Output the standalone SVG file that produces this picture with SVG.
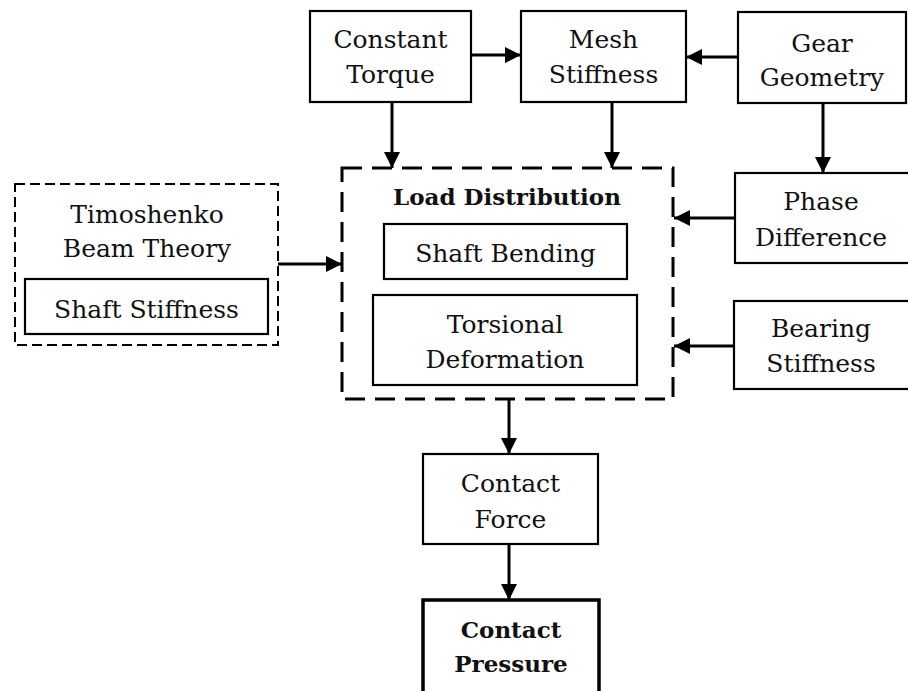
<svg xmlns="http://www.w3.org/2000/svg" width="908" height="691" viewBox="0 0 908 691">
<defs>
<marker id="ah" markerWidth="16" markerHeight="16" refX="16" refY="8" orient="auto" markerUnits="userSpaceOnUse">
<path d="M0,0 L16,8 L0,16 Z" fill="#000"/>
</marker>
<style>
.box{fill:#fff;stroke:#000;stroke-width:2.2}
.bold{fill:#fff;stroke:#000;stroke-width:3.5}
.dash1{fill:none;stroke:#000;stroke-width:3;stroke-dasharray:20 10}
.dash2{fill:none;stroke:#000;stroke-width:2;stroke-dasharray:10 5}
.t{font-family:"DejaVu Serif","Liberation Serif",serif;font-size:25px;text-anchor:middle;fill:#111}
.tb{font-family:"DejaVu Serif","Liberation Serif",serif;font-size:23px;font-weight:bold;text-anchor:middle;fill:#111}
.c{fill:none;stroke:#000;stroke-width:3;marker-end:url(#ah)}
</style>
</defs>
<rect width="908" height="691" fill="#fff"/>
<g id="constant-torque">
<rect class="box" x="310" y="11" width="161" height="91"/>
<text class="t" x="390.5" y="48">Constant</text>
<text class="t" x="390.5" y="83">Torque</text>
</g>
<g id="mesh-stiffness">
<rect class="box" x="521" y="11" width="165" height="91"/>
<text class="t" x="603.5" y="48">Mesh</text>
<text class="t" x="603.5" y="83">Stiffness</text>
</g>
<g id="gear-geometry">
<rect class="box" x="738" y="12" width="168" height="91"/>
<text class="t" x="822" y="52">Gear</text>
<text class="t" x="822" y="86">Geometry</text>
</g>
<g id="phase-difference">
<rect class="box" x="735" y="173" width="180" height="90"/>
<text class="t" x="821" y="210">Phase</text>
<text class="t" x="821" y="246">Difference</text>
</g>
<g id="bearing-stiffness">
<rect class="box" x="734" y="301" width="180" height="88"/>
<text class="t" x="821" y="337">Bearing</text>
<text class="t" x="821" y="372">Stiffness</text>
</g>
<g id="timoshenko">
<rect class="dash2" x="15" y="184" width="263" height="161"/>
<text class="t" x="147" y="223">Timoshenko</text>
<text class="t" x="147" y="257">Beam Theory</text>
</g>
<g id="shaft-stiffness">
<rect class="box" x="25" y="279" width="243" height="55"/>
<text class="t" x="146.5" y="318">Shaft Stiffness</text>
</g>
<g id="load-distribution">
<rect class="dash1" x="342" y="168" width="331" height="231"/>
<text class="tb" x="507" y="205">Load Distribution</text>
</g>
<g id="shaft-bending">
<rect class="box" x="384" y="224" width="243" height="55"/>
<text class="t" x="505.5" y="262">Shaft Bending</text>
</g>
<g id="torsional-deformation">
<rect class="box" x="373" y="295" width="264" height="90"/>
<text class="t" x="505" y="333">Torsional</text>
<text class="t" x="505" y="368">Deformation</text>
</g>
<g id="contact-force">
<rect class="box" x="423" y="454" width="175" height="90"/>
<text class="t" x="510.5" y="492">Contact</text>
<text class="t" x="510.5" y="528">Force</text>
</g>
<g id="contact-pressure">
<rect class="bold" x="423" y="600" width="176" height="100"/>
<text class="tb" x="511" y="638">Contact</text>
<text class="tb" x="511" y="672">Pressure</text>
</g>
<g id="connectors">
<line class="c" x1="471" y1="55" x2="521" y2="55"/>
<line class="c" x1="738" y1="57" x2="686" y2="57"/>
<line class="c" x1="392" y1="102" x2="392" y2="168"/>
<line class="c" x1="612" y1="102" x2="612" y2="168"/>
<line class="c" x1="823" y1="103" x2="823" y2="173"/>
<line class="c" x1="735" y1="218" x2="674" y2="218"/>
<line class="c" x1="734" y1="346" x2="674" y2="346"/>
<line class="c" x1="278" y1="264" x2="342" y2="264"/>
<line class="c" x1="509" y1="399" x2="509" y2="454"/>
<line class="c" x1="509" y1="544" x2="509" y2="600"/>
</g>
</svg>
